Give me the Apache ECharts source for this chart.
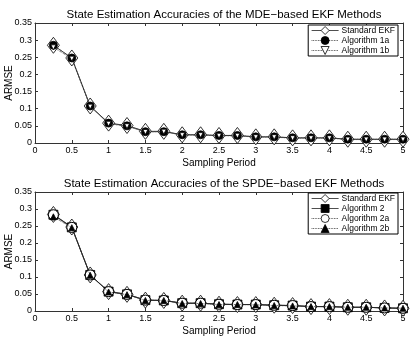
<!DOCTYPE html>
<html>
<head>
<meta charset="utf-8">
<script src="https://cdn.jsdelivr.net/npm/echarts@6/dist/echarts.min.js"></script>
<style>
  html, body { margin: 0; padding: 0; background: #fff; }
  #chart { width: 415px; height: 337px; }
</style>
</head>
<body>
<div id="chart"></div>
<script>
// sampling periods (x)
const periods = [0.25, 0.5, 0.75, 1, 1.25, 1.5, 1.75, 2, 2.25, 2.5, 2.75, 3, 3.25, 3.5, 3.75, 4, 4.25, 4.5, 4.75, 5]

// top panel: MDE-based
const mdeStandard = [0.285, 0.248, 0.108, 0.058, 0.051, 0.034, 0.034, 0.024, 0.024, 0.022, 0.022, 0.018, 0.018, 0.015, 0.015, 0.015, 0.011, 0.011, 0.011, 0.011]
const mdeAlg1a = [0.285, 0.248, 0.108, 0.058, 0.050, 0.033, 0.033, 0.024, 0.024, 0.022, 0.022, 0.018, 0.018, 0.015, 0.015, 0.015, 0.011, 0.011, 0.011, 0.011]
const mdeAlg1b = [0.279, 0.246, 0.106, 0.056, 0.049, 0.032, 0.033, 0.023, 0.023, 0.021, 0.021, 0.017, 0.017, 0.014, 0.014, 0.014, 0.010, 0.010, 0.010, 0.010]

// bottom panel: SPDE-based
const spdeStandard = [0.284, 0.247, 0.106, 0.057, 0.049, 0.032, 0.031, 0.023, 0.023, 0.020, 0.019, 0.019, 0.017, 0.016, 0.013, 0.013, 0.011, 0.011, 0.009, 0.008]
const spdeAlg2 = [0.283, 0.246, 0.106, 0.057, 0.049, 0.032, 0.031, 0.023, 0.023, 0.020, 0.019, 0.019, 0.017, 0.016, 0.013, 0.013, 0.011, 0.011, 0.009, 0.008]
const spdeAlg2a = [0.283, 0.246, 0.106, 0.057, 0.049, 0.032, 0.031, 0.023, 0.023, 0.020, 0.019, 0.019, 0.017, 0.016, 0.013, 0.013, 0.011, 0.011, 0.009, 0.008]
const spdeAlg2b = [0.277, 0.245, 0.105, 0.056, 0.048, 0.031, 0.031, 0.022, 0.022, 0.019, 0.019, 0.018, 0.016, 0.015, 0.013, 0.013, 0.011, 0.011, 0.009, 0.008]

const titles = ['State Estimation Accuracies of the MDE\u2212based EKF Methods', 'State Estimation Accuracies of the SPDE\u2212based EKF Methods']

const FONT = 'Liberation Sans'
const AXIS_COLOR = '#333'

const pair = (xs, ys) => xs.map((x, i) => [x, ys[i]])

// x 轴（每个 grid 上下各一条，画出 matlab 式的边框）
function makeX(gridIndex, pos) {
  const isBottom = pos === 'bottom'
  return {
    type: 'value',
    gridIndex,
    position: pos,
    min: 0,
    max: 5,
    interval: 0.5,
    name: isBottom ? 'Sampling Period' : '',
    nameLocation: 'middle',
    nameGap: 15,
    nameMoveOverlap: false,
    nameTextStyle: { fontFamily: FONT, fontSize: 10, color: '#000' },
    axisLine: { show: true, onZero: false, lineStyle: { color: AXIS_COLOR, width: 1 } },
    axisTick: { show: true, inside: true, length: 3, lineStyle: { color: AXIS_COLOR } },
    axisLabel: { show: isBottom, margin: 3, fontFamily: FONT, fontSize: 9, color: '#000' },
    splitLine: { show: false },
  }
}

function makeY(gridIndex, pos) {
  const isLeft = pos === 'left'
  return {
    type: 'value',
    gridIndex,
    position: pos,
    min: 0,
    max: 0.35,
    interval: 0.05,
    name: isLeft ? 'ARMSE' : '',
    nameLocation: 'middle',
    nameGap: 21,
    nameRotate: 90,
    nameMoveOverlap: false,
    nameTextStyle: { fontFamily: FONT, fontSize: 10, color: '#000' },
    axisLine: { show: true, onZero: false, lineStyle: { color: AXIS_COLOR, width: 1 } },
    axisTick: { show: true, inside: true, length: 3, lineStyle: { color: AXIS_COLOR } },
    axisLabel: { show: isLeft, margin: 3, fontFamily: FONT, fontSize: 9, color: '#000' },
    splitLine: { show: false },
  }
}

function lineSeries(name, data, gridIdx, opt) {
  return {
    name,
    type: 'line',
    xAxisIndex: gridIdx * 2,
    yAxisIndex: gridIdx * 2,
    data: pair(periods, data),
    symbol: opt.symbol,
    symbolSize: opt.size,
    symbolRotate: opt.rotate || 0,
    showAllSymbol: true,
    animation: false,
    lineStyle: { color: '#222', width: 0.8, type: opt.dash || 'solid' },
    itemStyle: { color: opt.fill, borderColor: '#000', borderWidth: opt.borderWidth || 0.8 },
    emphasis: { disabled: true },
    z: opt.z,
  }
}

const diamond = 'path://M0,-1L0.75,0L0,1L-0.75,0Z'

const series = [
  lineSeries('Standard EKF', mdeStandard, 0, { symbol: diamond, size: [12, 16], fill: '#fff', z: 2 }),
  lineSeries('Algorithm 1a', mdeAlg1a, 0, { symbol: 'circle', size: 8, fill: '#000', dash: 'dotted', z: 3 }),
  lineSeries('Algorithm 1b', mdeAlg1b, 0, { symbol: 'triangle', size: 5, rotate: 180, fill: '#fff', dash: 'dotted', z: 4 }),
  lineSeries('Standard EKF', spdeStandard, 1, { symbol: diamond, size: [12, 16], fill: '#fff', z: 2 }),
  lineSeries('Algorithm 2', spdeAlg2, 1, { symbol: 'rect', size: 9, fill: '#000', z: 3 }),
  lineSeries('Algorithm 2a', spdeAlg2a, 1, { symbol: 'circle', size: 10, fill: '#fff', borderWidth: 1, dash: 'dotted', z: 4 }),
  lineSeries('Algorithm 2b', spdeAlg2b, 1, { symbol: 'triangle', size: 6, fill: '#000', dash: 'dotted', z: 5 }),
]

const legendBase = {
  orient: 'vertical',
  right: 17,
  itemWidth: 27,
  itemHeight: 10,
  itemGap: 1,
  padding: [1, 3, 1, 3],
  backgroundColor: '#fff',
  borderColor: '#000',
  borderWidth: 1,
  borderRadius: 0,
  lineStyle: { width: 0.8 },
  itemStyle: { borderWidth: 0.8 },
  textStyle: { fontFamily: FONT, fontSize: 8.5, color: '#000', padding: [0, 0, 0, -2] },
  selectedMode: false,
  z: 10,
}

const chart = echarts.init(document.getElementById('chart'), null, { renderer: 'canvas' })
chart.setOption({
  animation: false,
  title: [
    { text: titles[0], left: 219, top: 4, textAlign: 'center', textStyle: { fontFamily: FONT, fontSize: 11.5, fontWeight: 'normal', color: '#000' } },
    { text: titles[1], left: 219, top: 173, textAlign: 'center', textStyle: { fontFamily: FONT, fontSize: 11.5, fontWeight: 'normal', color: '#000' } },
  ],
  legend: [
    Object.assign({}, legendBase, {
      top: 25,
      data: ['Standard EKF', 'Algorithm 1a', 'Algorithm 1b'],
    }),
    Object.assign({}, legendBase, {
      top: 193,
      data: ['Standard EKF', 'Algorithm 2', 'Algorithm 2a', 'Algorithm 2b'],
    }),
  ],
  grid: [
    { left: 35, right: 12, top: 23, height: 120, outerBoundsMode: 'none' },
    { left: 35, right: 12, top: 192, height: 119, outerBoundsMode: 'none' },
  ],
  xAxis: [makeX(0, 'bottom'), makeX(0, 'top'), makeX(1, 'bottom'), makeX(1, 'top')],
  yAxis: [makeY(0, 'left'), makeY(0, 'right'), makeY(1, 'left'), makeY(1, 'right')],
  series,
})
</script>
</body>
</html>
